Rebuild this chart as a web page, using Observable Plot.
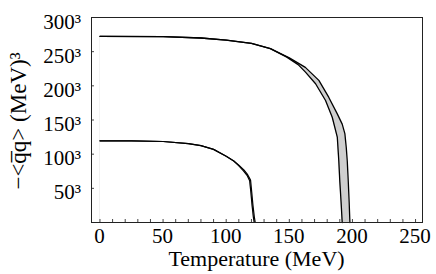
<!DOCTYPE html>
<html>
<head>
<meta charset="utf-8">
<script src="https://cdn.jsdelivr.net/npm/d3@7"></script>
<script src="https://cdn.jsdelivr.net/npm/@observablehq/plot@0.6"></script>
<style>
  html, body { margin: 0; padding: 0; background: white; }
  #chart { position: relative; width: 436px; height: 274px; }
  .lbl { position: absolute; color: black; line-height: 1; white-space: nowrap; font-variant-numeric: normal; }
</style>
</head>
<body>
<div id="chart"></div>
<script>
// Temperature (MeV) and cube root of the condensate (MeV)
const upperOuterT = [0, 50, 80, 100, 120, 135, 150, 162.7, 173.4, 181.3, 188, 191.9, 194, 195.1, 195.9, 196.7, 197.4, 198];
const upperOuterV = [272.5, 272, 270, 267, 262, 254.5, 241, 227, 208, 183, 159, 144, 130, 110, 90, 60, 30, 0];
const upperInnerT = [0, 50, 80, 100, 120, 135, 148, 157, 162.8, 170.8, 178.7, 184, 188, 189.2, 190, 191, 191.9];
const upperInnerV = [272.5, 272, 270, 267, 262, 254.5, 242, 231, 220, 203, 178.5, 154, 125, 90, 60, 30, 0];
const lowerOuterT = [0, 25, 50, 70, 80, 90, 100, 106, 110, 114, 117, 119.3, 120.2, 121.2, 122.3, 123];
const lowerOuterV = [119.5, 119.5, 118.5, 115.5, 112.5, 107, 97, 90, 84, 77, 70, 62, 45, 25, 8, 0];
const lowerInnerT = [0, 25, 50, 70, 80, 90, 100, 106, 110, 113.5, 116.5, 118.6, 119.5, 120.5, 121.5, 122.2];
const lowerInnerV = [119.5, 119.5, 118.5, 115.5, 112.5, 107, 97, 90, 83, 76, 69, 61, 45, 25, 8, 0];

const xMajorTicks = [0, 50, 100, 150, 200, 250];
const xMinorTicks = d3.range(0, 251, 10);
const yTickValues = [50, 100, 150, 200, 250, 300];
const yTickLabels = ["50³", "100³", "150³", "200³", "250³", "300³"];
const xLabel = "Temperature (MeV)";
const yLabel = "\u2212<q\u0305q> (MeV)\u00B3";

const toRows = (T, V) => T.map((t, i) => ({T: t, V: V[i]}));
const uo = toRows(upperOuterT, upperOuterV);
const ui = toRows(upperInnerT, upperInnerV);
const lo = toRows(lowerOuterT, lowerOuterV);
const li = toRows(lowerInnerT, lowerInnerV);

const W = 436, H = 274, mL = 91, mR = 14, mT = 17, mB = 52;
const tickLen = 3;

const chart = Plot.plot({
  width: W, height: H,
  marginLeft: mL, marginRight: mR, marginTop: mT, marginBottom: mB,
  style: {background: "white", color: "black"},
  x: {domain: [-6.7, 255.5], axis: null},
  y: {domain: [0, 300], axis: null},
  marks: [
    Plot.areaY(uo, {x: "T", y: "V", fill: "#cfcfcf"}),
    Plot.areaY(ui, {x: "T", y: "V", fill: "white"}),
    Plot.areaY(lo, {x: "T", y: "V", fill: "#cfcfcf"}),
    Plot.areaY(li, {x: "T", y: "V", fill: "white"}),
    Plot.line(uo, {x: "T", y: "V", stroke: "black", strokeWidth: 1.3}),
    Plot.line(ui, {x: "T", y: "V", stroke: "black", strokeWidth: 1.3}),
    Plot.line(lo, {x: "T", y: "V", stroke: "black", strokeWidth: 1.2}),
    Plot.line(li, {x: "T", y: "V", stroke: "black", strokeWidth: 1.2}),
    Plot.tickX(xMinorTicks, {x: d => d, insetTop: H - mT - mB - tickLen, stroke: "#444"}),
    Plot.tickY(yTickValues.slice(0, 5), {y: d => d, insetRight: W - mL - mR - tickLen, stroke: "#444"}),
    Plot.frame({stroke: "#222", strokeWidth: 1})
  ]
});
const wrap = document.getElementById("chart");
wrap.appendChild(chart);

// Labels as HTML text, positioned through Plot's own scales
const sx = chart.scale("x");
const sy = chart.scale("y");
const left = sx.apply(sx.domain[0]);
const bottom = sy.apply(0);
function addLabel(text, x, y, size, transform, family) {
  const d = document.createElement("div");
  d.className = "lbl";
  d.textContent = text;
  d.style.left = x + "px";
  d.style.top = y + "px";
  d.style.fontSize = size + "px";
  d.style.fontFamily = family;
  d.style.transform = transform;
  wrap.appendChild(d);
}
const serifA = "'Times New Roman', 'Liberation Serif', serif";
const serifB = "'Liberation Serif', serif";
xMajorTicks.forEach(v => addLabel(String(v), sx.apply(v), bottom + 14, 21, "translate(-50%,-50%)", serifA));
yTickValues.forEach((v, i) => addLabel(yTickLabels[i], left - 10, sy.apply(v) + 4.5, 21, "translate(-100%,-50%)", serifB));
addLabel(xLabel, (left + sx.apply(sx.domain[1])) / 2, bottom + 37, 22, "translate(-50%,-50%)", serifB);
addLabel(yLabel, 17.5, (bottom + sy.apply(300)) / 2 + 1.5, 23, "translate(-50%,-50%) rotate(-90deg)", serifB);
</script>
</body>
</html>
